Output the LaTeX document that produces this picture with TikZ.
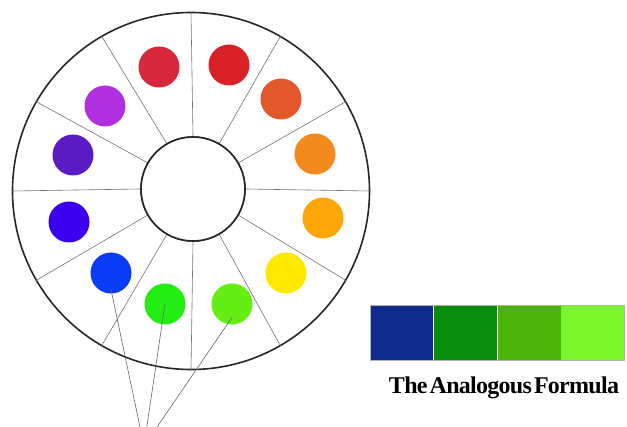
\documentclass[tikz,border=0pt]{standalone}
\usepackage{fontspec}
\setmainfont{Liberation Serif}
\newfontfamily\titlefont{Liberation Serif}[LetterSpace=-3,WordSpace=0.4]
\usetikzlibrary{calc}
\definecolor{cR1}{HTML}{D8283C}
\definecolor{cR2}{HTML}{D92228}
\definecolor{cOR}{HTML}{E2582A}
\definecolor{cO1}{HTML}{F28A1E}
\definecolor{cO2}{HTML}{FCA60A}
\definecolor{cY}{HTML}{FFE800}
\definecolor{cYG}{HTML}{66EE14}
\definecolor{cG}{HTML}{22EE14}
\definecolor{cB}{HTML}{0A3CF5}
\definecolor{cBV}{HTML}{3A00EE}
\definecolor{cV}{HTML}{5A1AC4}
\definecolor{cP}{HTML}{B030E0}
\definecolor{sw1}{HTML}{102A8C}
\definecolor{sw2}{HTML}{078C0C}
\definecolor{sw3}{HTML}{4DB30A}
\definecolor{sw4}{HTML}{7AF72A}
\begin{document}
\begin{tikzpicture}[x=1pt,y=-1pt,
  dot/.style={circle,minimum size=41pt,inner sep=0pt,draw=none},
  ring/.style={circle,draw=black!85,line width=1.6pt,inner sep=0pt},
  spoke/.style={draw=black!55,line width=0.6pt},
  pointer/.style={draw=black!60,line width=0.6pt},
  swatch/.style={minimum width=63.25pt,minimum height=55pt,inner sep=0pt,draw=none,anchor=north west}]
\useasboundingbox (0,0) rectangle (627,427);
\fill[white] (0,0) rectangle (627,427);
\node[ring,minimum size=357pt,fill=white] (outer) at (191,191) {};
\node[ring,minimum size=104pt,fill=white] (inner) at (193,189) {};
\foreach \a in {0,30,...,330}{
  \draw[spoke] (inner.\a) -- (outer.\a);
}
\node[ring,minimum size=104pt,fill=white] at (inner) {};
% dots
\node[dot,fill=cR1] (d105) at (159,67) {};
\node[dot,fill=cR2] (d75) at (229,65) {};
\node[dot,fill=cOR] (d45) at (281,99) {};
\node[dot,fill=cO1] (d15) at (315,154) {};
\node[dot,fill=cO2] (dm15) at (323,218) {};
\node[dot,fill=cY] (dm45) at (286,273) {};
\node[dot,fill=cYG] (dm75) at (232,304) {};
\node[dot,fill=cG] (dm105) at (165,304) {};
\node[dot,fill=cB] (dm135) at (111,273) {};
\node[dot,fill=cBV] (d195) at (69,222) {};
\node[dot,fill=cV] (d165) at (73,155) {};
\node[dot,fill=cP] (d135) at (105,106) {};
% pointers
\coordinate (focus) at (144,446);
\draw[pointer] (focus) -- ($(dm135.center)!0.8!(dm135.south)$);
\draw[pointer] (focus) -- (dm105.center);
\draw[pointer] (focus) -- ($(dm75.center)!0.65!(dm75.south)$);
% swatches
\node[swatch,fill=sw1] (s1) at (370,305) {};
\node[swatch,fill=sw2] (s2) at (s1.north east) {};
\node[swatch,fill=sw3] (s3) at (s2.north east) {};
\node[swatch,fill=sw4] (s4) at (s3.north east) {};
\draw[black!30,line width=0.5pt] (s1.north west) rectangle (s4.south east);
\node[anchor=base,inner sep=0pt,font={\titlefont\fontsize{24}{26}\selectfont\bfseries}] (title) at (504,394) {The Analogous Formula};
\end{tikzpicture}
\end{document}
